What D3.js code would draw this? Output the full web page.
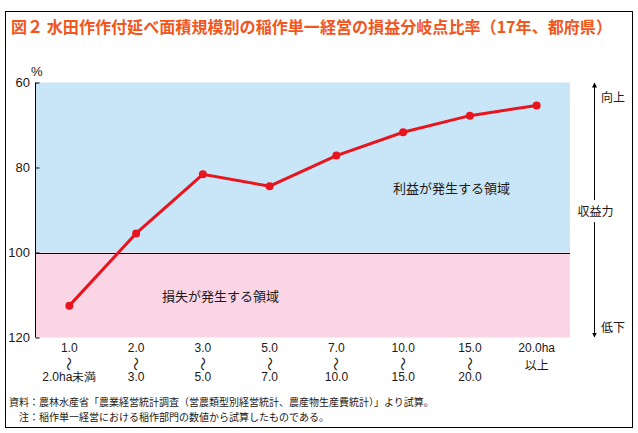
<!DOCTYPE html>
<html>
<head>
<meta charset="utf-8">
<style>
body { margin: 0; background: #fff; }
text { font-family: "Liberation Sans", Arial, sans-serif; }
.jp { font-family: "Noto Sans CJK JP", sans-serif; }
</style>
</head>
<body>
<svg width="638" height="433"></svg>
<script src="https://d3js.org/d3.v7.min.js"></script>
<script>
// category labels: top line / bottom line (middle line is a wave dash)
var catTop = ["1.0", "2.0", "3.0", "5.0", "7.0", "10.0", "15.0", "20.0ha"];
var catBottom = ["2.0ha未満", "3.0", "5.0", "7.0", "10.0", "15.0", "20.0", "以上"];
var breakEven = [112.5, 95.5, 81.6, 84.4, 77.2, 71.7, 67.8, 65.4];
var yTicks = [60, 80, 100, 120];

var svg = d3.select("svg");
var ink = "#231815";

// outer frame
svg.append("rect")
    .attr("x", 5.5).attr("y", 11.5)
    .attr("width", 627).attr("height", 416)
    .attr("fill", "none").attr("stroke", "#000").attr("stroke-width", 1);

svg.append("text")
    .attr("class", "jp")
    .attr("x", 11).attr("y", 33)
    .attr("font-size", 16.4).attr("font-weight", "bold")
    .attr("fill", "#f2561d")
    .attr("textLength", 601).attr("lengthAdjust", "spacingAndGlyphs")
    .text("図２ 水田作作付延べ面積規模別の稲作単一経営の損益分岐点比率（17年、都府県）");

var x = d3.scaleBand().domain(catTop.map(function(d, i) { return i; })).range([36, 570]);
var y = d3.scaleLinear().domain([60, 120]).range([82.5, 337.5]);

// profit / loss areas
svg.append("rect")
    .attr("x", 36).attr("y", y(60))
    .attr("width", 534).attr("height", y(100) - y(60))
    .attr("fill", "#c8e6f8");
svg.append("rect")
    .attr("x", 36).attr("y", y(100))
    .attr("width", 534).attr("height", y(120) - y(100))
    .attr("fill", "#fad5e5");
svg.append("line")
    .attr("x1", 36).attr("x2", 570)
    .attr("y1", Math.round(y(100)) + 0.5).attr("y2", Math.round(y(100)) + 0.5)
    .attr("stroke", "#000").attr("stroke-width", 1);

// y axis
var yAxis = svg.append("g")
    .attr("transform", "translate(35.5,0)")
    .call(d3.axisRight(y).tickValues(yTicks).tickSize(4).tickFormat(""));
yAxis.select(".domain").attr("d", "M0," + y(60) + "V" + y(120)).attr("stroke", "#000");
yAxis.selectAll(".tick line").attr("stroke", "#000");

svg.selectAll(".ylab")
    .data(yTicks)
    .enter().append("text")
    .attr("x", 30).attr("y", function(d) { return y(d) + 4.5; })
    .attr("text-anchor", "end")
    .attr("font-size", 13)
    .attr("fill", ink)
    .text(function(d) { return d; });

svg.append("text")
    .attr("x", 31).attr("y", 76)
    .attr("font-size", 13).attr("fill", ink)
    .text("%");

// x category labels
var cats = svg.selectAll(".cat")
    .data(catTop)
    .enter().append("g")
    .attr("transform", function(d, i) { return "translate(" + (x(i) + x.bandwidth() / 2) + ",0)"; });
cats.append("text")
    .attr("y", 352).attr("text-anchor", "middle")
    .attr("font-size", 12).attr("fill", ink)
    .text(function(d) { return d; });
cats.filter(function(d, i) { return i < 7; }).append("text")
    .attr("class", "jp")
    .attr("text-anchor", "middle")
    .attr("font-size", 14).attr("fill", ink)
    .attr("transform", "translate(-5,364) rotate(90)")
    .text("〜");
cats.append("text")
    .attr("class", function(d, i) { return i === 7 ? "jp" : null; })
    .attr("y", function(d, i) { return i === 7 ? 370 : 381; })
    .attr("text-anchor", "middle")
    .attr("font-size", 12).attr("fill", ink)
    .text(function(d, i) { return catBottom[i]; });

// line
var line = d3.line()
    .x(function(d, i) { return x(i) + x.bandwidth() / 2; })
    .y(function(d) { return y(d); });
svg.append("path")
    .datum(breakEven)
    .attr("d", line)
    .attr("fill", "none")
    .attr("stroke", "#e8141e")
    .attr("stroke-width", 3);
svg.selectAll(".dot")
    .data(breakEven)
    .enter().append("circle")
    .attr("cx", function(d, i) { return x(i) + x.bandwidth() / 2; })
    .attr("cy", function(d) { return y(d); })
    .attr("r", 4)
    .attr("fill", "#e8141e");

// area labels
svg.append("text").attr("class", "jp")
    .attr("x", 393).attr("y", 193)
    .attr("font-size", 13).attr("fill", ink)
    .text("利益が発生する領域");
svg.append("text").attr("class", "jp")
    .attr("x", 162).attr("y", 301)
    .attr("font-size", 13).attr("fill", ink)
    .text("損失が発生する領域");

// right-hand arrow
var ax = 594.5;
svg.append("defs").append("marker")
    .attr("id", "arr")
    .attr("viewBox", "0 0 10 10")
    .attr("refX", 9).attr("refY", 5)
    .attr("markerWidth", 5).attr("markerHeight", 7)
    .attr("markerUnits", "userSpaceOnUse")
    .attr("orient", "auto")
  .append("path").attr("d", "M0,0L10,5L0,10z").attr("fill", "#000");
svg.append("line")
    .attr("x1", ax).attr("x2", ax).attr("y1", 200).attr("y2", 83)
    .attr("stroke", "#000").attr("marker-end", "url(#arr)");
svg.append("line")
    .attr("x1", ax).attr("x2", ax).attr("y1", 222).attr("y2", 337)
    .attr("stroke", "#000").attr("marker-end", "url(#arr)");
svg.append("text").attr("class", "jp")
    .attr("x", ax + 1).attr("y", 216).attr("text-anchor", "middle")
    .attr("font-size", 12).attr("fill", ink).text("収益力");
svg.append("text").attr("class", "jp")
    .attr("x", 601).attr("y", 102)
    .attr("font-size", 12).attr("fill", ink).text("向上");
svg.append("text").attr("class", "jp")
    .attr("x", 601).attr("y", 332)
    .attr("font-size", 12).attr("fill", ink).text("低下");

// notes
svg.append("text").attr("class", "jp")
    .attr("x", 9).attr("y", 406)
    .attr("font-size", 10).attr("fill", ink)
    .text("資料：農林水産省「農業経営統計調査（営農類型別経営統計、農産物生産費統計）」より試算。");
svg.append("text").attr("class", "jp")
    .attr("x", 19).attr("y", 421)
    .attr("font-size", 10).attr("fill", ink)
    .text("注：稲作単一経営における稲作部門の数値から試算したものである。");
</script>
</body>
</html>
